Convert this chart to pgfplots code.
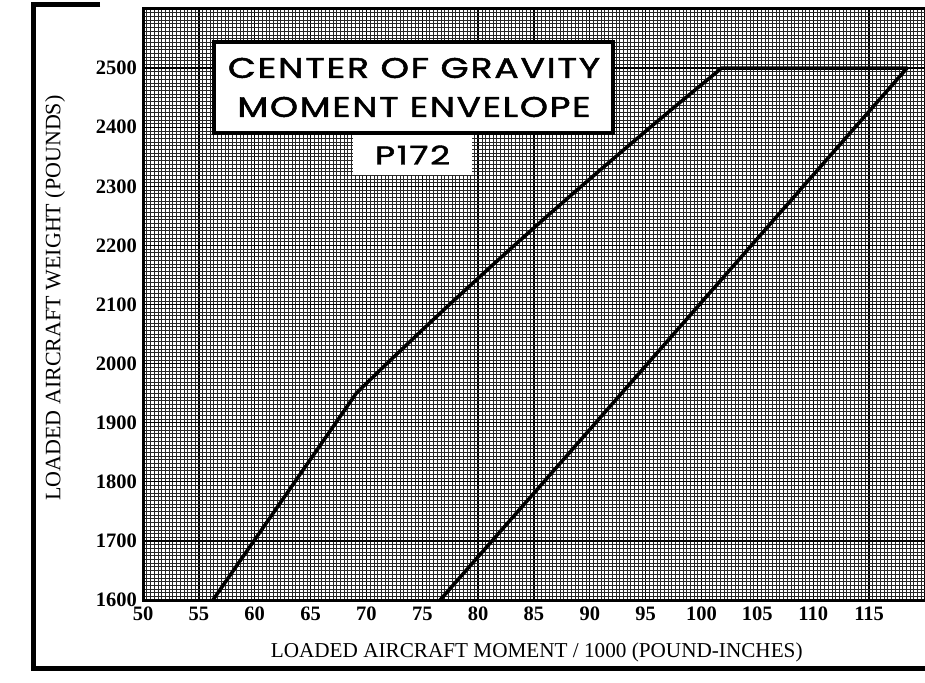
\documentclass[border=0pt]{standalone}
\usepackage{fontspec}
\setmainfont{Liberation Serif}
\newfontfamily\titlefont{Poppins}[LetterSpace=5,FakeBold=1.6]
\usepackage{pgfplots}
\pgfplotsset{compat=1.18}

\begin{document}
\begin{tikzpicture}
\path[use as bounding box] (0,0) rectangle (925pt,682pt);
\begin{axis}[
  at={(143pt,82pt)}, anchor=south west,
  scale only axis, width=787.5pt, height=591pt,
  xmin=50, xmax=120.5, ymin=1600, ymax=2600,
  xtick={50,55,60,65,70,75,80,85,90,95,100,105,110,115,120},
  xticklabels={50,55,60,65,70,75,80,85,90,95,100,105,110,115,{}},
  ytick={1600,1700,1800,1900,2000,2100,2200,2300,2400,2500,2600},
  yticklabels={1600,1700,1800,1900,2000,2100,2200,2300,2400,2500,{}},
  minor x tick num=14, minor y tick num=15,
  grid=both,
  major grid style={black, line width=1.3pt},
  minor grid style={black!85, line width=0.6pt},
  major tick length=0pt, minor tick length=0pt,
  axis line style={black, line width=3pt},
  tick label style={font=\fontsize{20.5}{20.5}\selectfont\bfseries},
  xticklabel style={anchor=base, inner sep=0pt, yshift=-20pt},
  yticklabel style={anchor=east, inner sep=0pt, xshift=-6pt},
  /pgf/number format/assume math mode=true,
  xlabel={LOADED AIRCRAFT MOMENT / 1000 (POUND-INCHES)},
  ylabel={LOADED AIRCRAFT WEIGHT (POUNDS)},
  xlabel style={at={(axis description cs:0.5,-0.088)}, anchor=center, font=\fontsize{21.2}{21.2}\selectfont, inner sep=0pt},
  ylabel style={at={(axis description cs:-0.1117,0.511)}, anchor=center, font=\fontsize{22}{22}\selectfont, inner sep=0pt},
]
\addplot[black, line width=3.5pt, line join=round] coordinates {
  (56.26,1600) (69.1,1950) (71.83,2000) (74.61,2050) (77.44,2100)
  (80.32,2150) (83.24,2200) (86.21,2250) (89.24,2300) (92.31,2350)
  (95.42,2400) (98.59,2450) (101.8,2500) (118.4,2500) (76.6,1600)
};
\end{axis}
\node[draw=black, line width=4pt, fill=white, minimum width=399pt, minimum height=91pt, inner sep=0pt] at (413.5pt,594.5pt) {};
\node[inner sep=0pt] at (414pt,614pt) {\titlefont\resizebox{372pt}{20pt}{CENTER OF GRAVITY}};
\node[inner sep=0pt] at (414pt,575pt) {\titlefont\resizebox{353pt}{20pt}{MOMENT ENVELOPE}};
\node[fill=white, minimum width=119pt, minimum height=40pt, inner sep=0pt] at (412.5pt,527pt) {};
\node[inner sep=0pt] at (412.5pt,527pt) {\titlefont\resizebox{75pt}{19pt}{P172}};
\draw[line width=5pt] (100pt,677pt) -- (33pt,677pt) -- (33pt,14pt) -- (930pt,14pt);
\end{tikzpicture}
\end{document}
